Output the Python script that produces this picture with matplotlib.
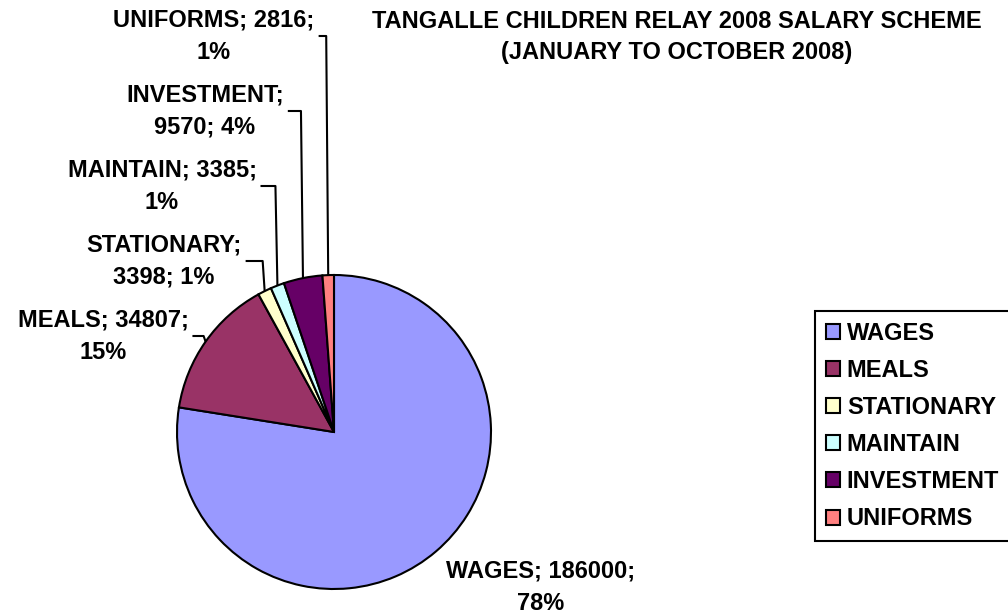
import numpy as np
import matplotlib
matplotlib.use("Agg")
import matplotlib.pyplot as plt
from matplotlib.patches import Patch

# ----------------------------
# Daten
# ----------------------------
categories = ["WAGES", "MEALS", "STATIONARY", "MAINTAIN", "INVESTMENT", "UNIFORMS"]
amounts = [186000, 34807, 3398, 3385, 9570, 2816]
percent_labels = ["78%", "15%", "1%", "1%", "4%", "1%"]
colors = ["#9999FF", "#993366", "#FFFFCC", "#CCFFFF", "#660066", "#FF8080"]

# label text (line break as in the original chart)
label_texts = [
    "WAGES; 186000;\n78%",
    "MEALS; 34807;\n15%",
    "STATIONARY;\n3398; 1%",
    "MAINTAIN; 3385;\n1%",
    "INVESTMENT;\n9570; 4%",
    "UNIFORMS; 2816;\n1%",
]

# ----------------------------
# Layout (pixels in a 1008x615 figure)
# ----------------------------
W, H = 1008, 615
CX, CY, R = 334, 432, 157
label_pos_px = [(541, 587), (103, 336), (164, 261), (162, 186), (205, 111), (214, 36)]
draw_leader = [False, True, True, True, True, True]
FONT = "Liberation Sans"
FS = 17
LS = 1.5

fig = plt.figure(figsize=(W / 100, H / 100), dpi=100)
ax = fig.add_axes([(CX - R) / W, (H - CY - R) / H, 2 * R / W, 2 * R / H])

wedges, _ = ax.pie(amounts, colors=colors, startangle=90, counterclock=False,
                   wedgeprops=dict(edgecolor="black", linewidth=1.5))
ax.set_xlim(-1, 1)
ax.set_ylim(-1, 1)
ax.set_aspect("equal")
ax.axis("off")

def px2data(px, py):
    return (px - CX) / R, (CY - py) / R

texts = []
for txt, (px, py) in zip(label_texts, label_pos_px):
    x, y = px2data(px, py)
    t = ax.text(x, y, txt, ha="center", va="center", multialignment="center",
                fontsize=FS, fontweight="bold", family=FONT, linespacing=LS,
                clip_on=False)
    texts.append(t)

fig.canvas.draw()
renderer = fig.canvas.get_renderer()
inv = ax.transData.inverted()

# leader lines: from the wedge middle on the rim, up to the label, then across
for w, t, lead in zip(wedges, texts, draw_leader):
    if not lead:
        continue
    ang = np.deg2rad((w.theta1 + w.theta2) / 2)
    x0, y0 = np.cos(ang), np.sin(ang)
    bb = t.get_window_extent(renderer)
    xr, _ = inv.transform((bb.x1 + 4, 0))
    _, yc = inv.transform((0, (bb.y0 + bb.y1) / 2))
    xe = x0 - 2 / R
    ax.plot([x0, xe, xr], [y0, yc, yc], color="black", linewidth=1.5,
            clip_on=False, solid_capstyle="butt")

fig.text(677 / W, 1 - 37 / H,
         "TANGALLE CHILDREN RELAY 2008 SALARY SCHEME\n(JANUARY TO OCTOBER 2008)",
         ha="center", va="center", multialignment="center", fontsize=FS,
         fontweight="bold", family=FONT, linespacing=LS)

handles = [Patch(facecolor=c, edgecolor="black", linewidth=1.5) for c in colors]
leg = fig.legend(handles, categories, loc="upper left",
                 bbox_to_anchor=(815 / W, 1 - 311 / H),
                 prop=dict(family=FONT, weight="bold", size=FS),
                 fancybox=False, framealpha=1, edgecolor="black",
                 handlelength=0.6, handleheight=0.6, handletextpad=0.3,
                 labelspacing=0.6, borderpad=0.45, borderaxespad=0)
leg.get_frame().set_linewidth(1.5)

fig.savefig("out.png", dpi=100)
